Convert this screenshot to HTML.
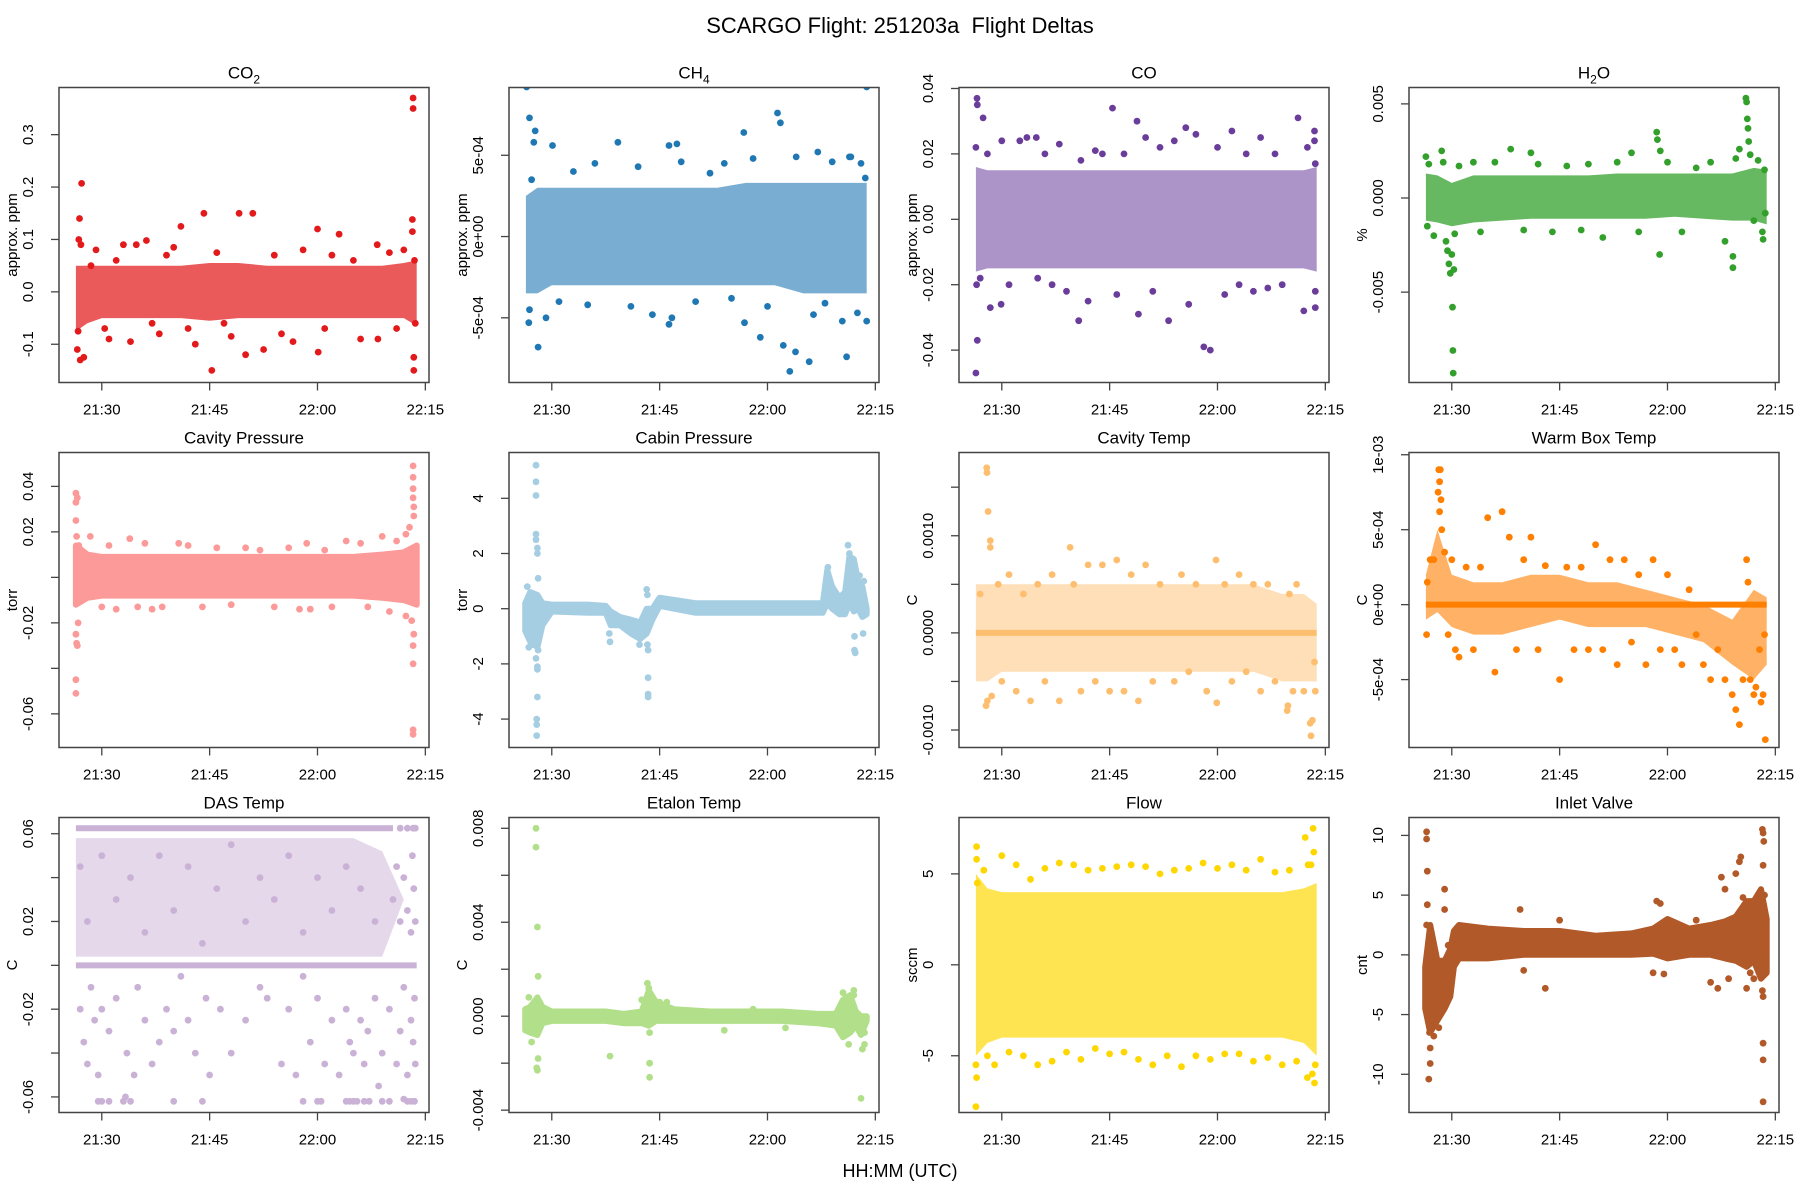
<!DOCTYPE html>
<html><head><meta charset="utf-8"><style>
html,body{margin:0;padding:0;background:#fff}
svg{display:block;font-family:"Liberation Sans",Arial,sans-serif}
</style></head><body>
<svg id="chart" width="1800" height="1200" viewBox="0 0 1800 1200" xmlns="http://www.w3.org/2000/svg">
<rect x="0" y="0" width="1800" height="1200" fill="#fff"/>
<text x="900" y="33" font-size="22" text-anchor="middle" fill="#000">SCARGO Flight: 251203a&#160; Flight Deltas</text>
<text x="900" y="1177" font-size="18" text-anchor="middle" fill="#000">HH:MM (UTC)</text>
<g id="panels"></g>
</svg>
<script>
// shared x-axis data (minutes after 21:00)
const xTickVals = [30, 45, 60, 75];
const xTickLabels = ["21:30", "21:45", "22:00", "22:15"];
const bandT = [26.4,28,30,33,37,41,45,49,53,57,61,65,69,72,73.8];

// CO2
const co2Lo = [-0.075,-0.06,-0.05,-0.05,-0.05,-0.05,-0.055,-0.05,-0.05,-0.05,-0.05,-0.05,-0.05,-0.05,-0.065];
const co2Hi = [0.05,0.05,0.05,0.05,0.05,0.05,0.055,0.055,0.05,0.05,0.05,0.05,0.05,0.055,0.06];
const co2Pts = [[26.6,-0.11],[26.7,-0.075],[26.8,0.1],[26.9,0.14],[27.0,-0.13],[27.2,0.207],[27.5,-0.125],[27.1,0.09],[28.5,0.05],[29.2,0.08],[30.4,-0.07],[31,-0.09],[32,0.06],[33,0.09],[34,-0.095],[34.8,0.09],[36.2,0.098],[37,-0.06],[38,-0.08],[39,0.07],[40,0.085],[41,0.125],[42,-0.07],[43,-0.1],[44.2,0.15],[45.3,-0.15],[46,0.075],[47,-0.06],[48,-0.085],[49.1,0.15],[50,-0.12],[51,0.15],[52.5,-0.11],[54,0.07],[55,-0.08],[56.6,-0.095],[58,0.08],[60,0.12],[60.1,-0.115],[61,-0.07],[62,0.07],[63,0.11],[65,0.06],[66,-0.09],[68.3,0.09],[68.4,-0.09],[70,0.075],[71,-0.07],[72,0.08],[73.2,0.138],[73.2,0.115],[73.3,0.37],[73.3,0.35],[73.4,-0.125],[73.4,-0.15],[73.5,0.06],[73.6,-0.06]];

// CH4
const ch4Lo = [-3.5e-4,-3.5e-4,-3e-4,-3e-4,-3e-4,-3e-4,-3e-4,-3e-4,-3e-4,-3e-4,-3e-4,-3.5e-4,-3.5e-4,-3.5e-4,-3.5e-4];
const ch4Hi = [2.5e-4,3e-4,3e-4,3e-4,3e-4,3e-4,3e-4,3e-4,3e-4,3.3e-4,3.3e-4,3.3e-4,3.3e-4,3.3e-4,3.3e-4];
const ch4Pts = [[26.5,9.2e-4],[26.9,7.3e-4],[27.7,6.5e-4],[27.5,5.8e-4],[30.1,5.6e-4],[26.8,-5.3e-4],[26.9,-4.5e-4],[28.1,-6.8e-4],[29.2,-5e-4],[27.2,3.5e-4],[31,-4e-4],[33,4e-4],[35,-4.2e-4],[36,4.5e-4],[39.2,5.8e-4],[41,-4.3e-4],[42,4.3e-4],[44,-4.8e-4],[46.3,5.6e-4],[47.4,5.7e-4],[46.3,-5.4e-4],[46.7,-5e-4],[48,4.6e-4],[50,-4e-4],[52,3.9e-4],[54,4.5e-4],[55,-3.8e-4],[56.7,6.4e-4],[56.8,-5.3e-4],[58,4.8e-4],[59,-6.2e-4],[60,-4.3e-4],[61.4,7.6e-4],[61.8,7e-4],[62.2,-6.7e-4],[63.1,-8.3e-4],[63.9,-7.1e-4],[64,4.9e-4],[65.8,-7.7e-4],[66.4,-4.8e-4],[67,5.2e-4],[68,-4.1e-4],[69,4.6e-4],[70.4,-5.2e-4],[71,-7.4e-4],[71.4,4.9e-4],[71.6,4.9e-4],[72.5,-4.7e-4],[73,4.5e-4],[73.8,9.2e-4],[73.8,-5.2e-4],[73.6,3.6e-4]];

// CO
const coLo = [-0.016,-0.015,-0.015,-0.015,-0.015,-0.015,-0.015,-0.015,-0.015,-0.015,-0.015,-0.015,-0.015,-0.015,-0.016];
const coHi = [0.016,0.015,0.015,0.015,0.015,0.015,0.015,0.015,0.015,0.015,0.015,0.015,0.015,0.015,0.016];
const coPts = [[26.55,0.037],[26.6,0.035],[27.4,0.031],[26.4,-0.047],[26.6,-0.037],[26.4,0.022],[26.5,-0.02],[27,-0.018],[28.4,-0.027],[29.9,-0.026],[28,0.02],[30,0.024],[31,-0.02],[32.5,0.024],[33.5,0.025],[34.8,0.025],[35,-0.018],[36,0.02],[37,-0.02],[38,0.023],[39,-0.022],[40.7,-0.031],[41,0.018],[42,-0.025],[43,0.021],[44,0.02],[45.4,0.034],[46,-0.023],[47,0.02],[48.8,0.03],[49,-0.029],[50,0.025],[51,-0.022],[52,0.022],[53.2,-0.031],[54,0.024],[55.6,0.028],[56,-0.026],[57,0.026],[58.1,-0.039],[59,-0.04],[60,0.022],[61,-0.023],[62,0.027],[63,-0.02],[64,0.02],[65,-0.022],[66,0.025],[67,-0.021],[68,0.02],[69,-0.02],[71.2,0.031],[72,-0.028],[72.5,0.022],[73.5,0.027],[73.5,0.024],[73.6,-0.027],[73.6,0.017],[73.6,-0.022]];

// H2O
const h2oLo = [-0.0012,-0.0013,-0.0015,-0.0013,-0.0012,-0.0011,-0.0011,-0.0011,-0.0011,-0.0011,-0.001,-0.0011,-0.0012,-0.0012,-0.0014];
const h2oHi = [0.0013,0.0012,0.0008,0.0012,0.0012,0.0012,0.0012,0.0012,0.0013,0.0013,0.0013,0.0013,0.0013,0.0016,0.0015];
const h2oPts = [[26.4,0.0022],[26.6,-0.0015],[26.8,0.0018],[27.5,-0.002],[28.6,0.0025],[28.8,0.0019],[29.2,-0.0023],[29.4,-0.0028],[29.6,-0.0035],[29.8,-0.004],[30,-0.003],[30.1,-0.0058],[30.15,-0.0081],[30.2,-0.0093],[30.3,-0.0038],[30.4,-0.0019],[31,0.0017],[33,0.0019],[34,-0.0018],[36,0.0019],[38.2,0.0026],[40,-0.0017],[41,0.0024],[42,0.0018],[44,-0.0018],[46,0.0017],[48,-0.0017],[49,0.0018],[51,-0.0021],[53,0.0019],[55,0.0024],[56,-0.0018],[58.5,0.0035],[58.6,0.0031],[58.9,-0.003],[59,0.0025],[60,0.0019],[62,-0.0018],[64,0.0016],[66,0.0019],[68,-0.0023],[69.1,-0.0037],[69.1,-0.0031],[69.5,0.0021],[70,0.0026],[70.9,0.0053],[71,0.0051],[71.1,0.0042],[71.2,0.0037],[71.3,0.003],[71.5,0.0023],[72,-0.0012],[72.6,0.002],[73.2,-0.0018],[73.3,-0.0022],[73.5,0.0015],[73.6,-0.0008]];

// Cavity Pressure
const cpLo = [-0.012,-0.009,-0.008,-0.008,-0.008,-0.008,-0.008,-0.008,-0.008,-0.008,-0.008,-0.008,-0.009,-0.01,-0.012];
const cpHi = [0.014,0.01,0.009,0.009,0.009,0.009,0.009,0.009,0.009,0.009,0.009,0.009,0.01,0.011,0.014];
const cpPts = [[26.4,0.037],[26.4,0.033],[26.4,0.025],[26.5,0.018],[26.4,-0.025],[26.5,-0.029],[26.4,-0.045],[26.4,-0.051],[26.6,0.035],[26.7,-0.02],[26.6,-0.03],[26.8,0.014],[28.4,0.018],[30,-0.013],[31,0.014],[32,-0.014],[33.9,0.017],[35,-0.013],[36,0.015],[37,-0.014],[38.4,-0.013],[40.7,0.015],[42,0.014],[44,-0.013],[46,0.013],[48,-0.012],[50,0.013],[52,0.012],[54,-0.013],[56,0.013],[57.5,-0.014],[58.5,0.015],[59,-0.014],[61,0.012],[62,-0.013],[64,0.016],[66,0.015],[67,-0.013],[69,0.018],[70,-0.015],[71,0.016],[72.3,0.019],[72.3,-0.017],[72.8,0.022],[73.1,-0.019],[73.3,0.049],[73.3,0.044],[73.3,0.039],[73.3,0.035],[73.4,0.031],[73.4,0.027],[73.4,-0.025],[73.3,-0.03],[73.3,-0.038],[73.3,-0.067],[73.3,-0.069]];

// Cabin Pressure
const cabT = [26.3,27,28,28.7,30,35,37.5,38.2,39.5,41,42.3,43.2,44,45,50,55,60,65,67.7,68.3,69,70,70.8,71.4,72,72.6,73.2,73.8];
const cabLo = [-0.8,-1.2,-1.4,-0.6,-0.1,-0.15,-0.15,-0.6,-0.6,-0.9,-1.1,-0.9,-0.4,0.1,-0.15,-0.15,-0.15,-0.15,-0.15,0.2,0.0,-0.2,-0.2,0.2,-0.1,0.0,-0.3,-0.2];
const cabHi = [0.2,0.6,0.5,0.2,0.15,0.15,0.1,-0.1,-0.3,-0.4,-0.5,0.0,0.0,0.4,0.2,0.2,0.2,0.2,0.2,1.4,0.8,0.4,0.6,1.9,1.8,1.0,0.8,0.0];
const cabPts = [[27.8,5.2],[27.8,4.6],[27.8,4.1],[27.8,2.7],[27.8,2.5],[28.0,2.2],[28.0,2.0],[28.1,1.1],[28,-2.2],[28,-2.1],[28,-3.2],[27.9,-4.0],[27.9,-4.2],[27.9,-4.6],[27.8,-1.8],[28.1,-1.5],[26.6,0.8],[26.8,-1.4],[27.3,-1.3],[38.1,-1.2],[38,-0.9],[43.2,0.7],[43.3,0.5],[43.4,-1.5],[43.3,-1.3],[43.4,-2.5],[43.4,-3.1],[43.4,-3.2],[42.2,-1.3],[68.4,1.5],[71.2,2.3],[71.4,2.0],[72.1,-1.0],[72.1,-1.5],[72.2,-1.6],[73.3,-0.9],[73.4,1.0],[72.8,1.2]];

// Cavity Temp
const ctLo = [-0.0005,-0.0005,-0.0004,-0.0004,-0.0004,-0.0004,-0.0004,-0.0004,-0.0004,-0.0004,-0.0004,-0.0004,-0.0005,-0.0005,-0.0005];
const ctHi = [0.0005,0.0005,0.0005,0.0005,0.0005,0.0005,0.0005,0.0005,0.0005,0.0005,0.0005,0.0005,0.0004,0.0004,0.0003];
const ctLine = [0];
const ctPts = [[27.9,0.0017],[27.95,0.00165],[28.1,0.00125],[28.4,0.00095],[28.4,0.00088],[27.8,-0.00075],[28.0,-0.0007],[28.6,-0.00065],[27,0.0004],[29.5,0.0005],[30,-0.0005],[31,0.0006],[32,-0.0006],[33,0.0004],[34,-0.0007],[35,0.0005],[36,-0.0005],[37,0.0006],[38,-0.0007],[39.5,0.00088],[40,0.0005],[41,-0.0006],[42,0.0007],[43,-0.0005],[44,0.0007],[45,-0.0006],[46,0.00075],[47,-0.0006],[48,0.0006],[49,-0.0007],[50,0.0007],[51,-0.0005],[52,0.0005],[54,-0.0005],[55,0.0006],[56,-0.0004],[57,0.0005],[58.5,-0.0006],[59.8,0.00075],[59.9,-0.00072],[61,0.0005],[62,-0.0005],[63,0.0006],[64,-0.0004],[65,0.0005],[66,-0.0006],[67,0.0005],[68,-0.0005],[69.7,-0.0008],[69.8,-0.00075],[70,0.0004],[70.5,-0.0006],[71,0.0005],[72,-0.0006],[72.9,-0.00093],[73,-0.00106],[73.2,-0.0009],[73.5,-0.0003],[73.6,-0.0006]];

// Warm Box Temp
const wbLo = [-1e-4,-0.5e-4,-1.5e-4,-2e-4,-2e-4,-1.5e-4,-1e-4,-1.5e-4,-1.5e-4,-1.5e-4,-2e-4,-2.5e-4,-4e-4,-5e-4,-4e-4];
const wbHi = [2e-4,5e-4,2e-4,1.5e-4,1.5e-4,2e-4,2e-4,1.5e-4,1.5e-4,1e-4,0.5e-4,0,-1e-4,1e-4,0.5e-4];
const wbLine = [0];
const wbPts = [[26.5,-0.0002],[26.6,0.00015],[27,0.0003],[27.5,0.0003],[28.2,0.0009],[28.4,0.0009],[28.3,0.00082],[28.1,0.00075],[28.5,0.0007],[28.3,0.00062],[28.6,0.0005],[29,0.00035],[29.5,-0.0002],[30,0.0003],[30.5,-0.0003],[31,-0.00035],[32,0.00025],[33,-0.0003],[34,0.00025],[35,0.00058],[36,-0.00045],[37,0.00062],[38,0.00045],[39,-0.0003],[40,0.0003],[41,0.00045],[42,-0.0003],[43,0.00026],[45,-0.0005],[46,0.00025],[47,-0.0003],[48,0.00025],[49,-0.0003],[50,0.0004],[51,-0.0003],[52,0.0003],[53,-0.0004],[54,0.0003],[55,-0.00025],[56,0.0002],[57,-0.0004],[58,0.0003],[59,-0.0003],[60,0.0002],[61,-0.0003],[62,-0.0004],[63,0.0001],[64,-0.0002],[65,-0.0004],[66,-0.0005],[67,-0.0003],[68,-0.0005],[69,-0.0006],[69.5,-0.0007],[70,-0.0008],[70.5,-0.0005],[71,0.0003],[71.2,0.00015],[71.5,-0.0005],[72,-0.0006],[72.3,-0.00055],[72.8,-0.0003],[73,-0.00065],[73.3,-0.0006],[73.6,-0.0009],[73.5,-0.0002]];

// DAS Temp
const dasLo = [0.004,0.004,0.004,0.004,0.004,0.004,0.004,0.004,0.004,0.004,0.004,0.004,0.004,0.03,0.03];
const dasHi = [0.058,0.058,0.058,0.058,0.058,0.058,0.058,0.058,0.058,0.058,0.058,0.058,0.052,0.03,0.03];
const dasLineVals = [0.0625, 0];
const dasLineEnds = [70.5, 73.8];
const dasPts = [[71.5,0.0625],[72.5,0.0625],[73.3,0.0625],[73.6,0.0625],[29.5,-0.062],[30,-0.062],[31,-0.062],[33,-0.062],[33.3,-0.06],[34,-0.062],[40,-0.062],[44,-0.062],[58,-0.062],[60,-0.062],[60.5,-0.062],[64,-0.062],[64.5,-0.062],[65,-0.062],[65.5,-0.062],[66.5,-0.062],[67.2,-0.062],[69,-0.062],[70,-0.062],[72,-0.061],[72.5,-0.062],[73,-0.062],[73.5,-0.062],[27,-0.02],[27.5,-0.035],[28,-0.045],[28.5,-0.01],[29,-0.025],[29.5,-0.05],[30,-0.02],[31,-0.03],[32,-0.015],[33.5,-0.04],[34.5,-0.05],[35,-0.01],[36,-0.025],[37,-0.045],[38,-0.035],[39,-0.02],[40,-0.03],[41,-0.005],[42,-0.025],[43,-0.04],[44.5,-0.015],[45,-0.05],[46.5,-0.02],[48,-0.04],[50,-0.025],[52,-0.01],[53,-0.015],[55,-0.045],[56,-0.02],[57,-0.05],[58,-0.005],[59,-0.035],[60,-0.015],[61,-0.045],[62,-0.025],[63,-0.05],[64,-0.02],[64.5,-0.035],[65,-0.04],[66,-0.025],[66.5,-0.045],[67,-0.03],[68,-0.015],[68.5,-0.055],[69,-0.04],[70,-0.02],[71,-0.045],[71.5,-0.03],[72,-0.01],[72.5,-0.05],[73,-0.025],[73.3,-0.035],[73.5,-0.015],[73.6,-0.045],[70.5,0.03],[71,0.045],[71.5,0.02],[72,0.04],[72.5,0.025],[73,0.015],[73.4,0.035],[73.6,0.02],[73.2,0.05],[27,0.045],[28,0.02],[30,0.05],[32,0.03],[34,0.04],[36,0.015],[38,0.05],[40,0.025],[42,0.045],[44,0.01],[46,0.035],[48,0.055],[50,0.02],[52,0.04],[54,0.03],[56,0.05],[58,0.015],[60,0.04],[62,0.025],[64,0.045],[66,0.035],[68,0.02]];

// Etalon Temp
const etT = [26.3,27,28,28.7,30,35,37.5,40,42.5,43.5,44.5,47,52,57,62,67,69.5,70.5,71.5,72.3,73,73.8];
const etLo = [-0.0006,-0.0007,-0.0008,-0.0003,-0.0002,-0.0002,-0.0002,-0.0003,-0.0003,-0.0004,-0.0002,-0.0002,-0.0002,-0.0002,-0.0002,-0.0003,-0.0004,-0.0009,-0.0007,-0.0004,-0.0008,-0.0002];
const etHi = [0.0003,0.0004,0.0008,0.0004,0.0002,0.0002,0.0002,0.0001,0.0002,0.0011,0.0006,0.0003,0.0002,0.0002,0.0002,0.0001,0.0001,0.0007,0.0009,0.0002,0.0,0.0];
const etPts = [[27.8,0.008],[27.8,0.0072],[28.0,0.0038],[28.1,0.0017],[28.1,-0.0018],[27.9,-0.0022],[28,-0.0023],[27.2,-0.0011],[26.8,0.0008],[38.1,-0.0017],[43.3,0.0014],[43.5,0.0012],[43.6,-0.0007],[43.6,-0.002],[43.6,-0.0026],[42.5,0.0007],[45,0.0006],[46,0.0006],[54,-0.0006],[58,0.0003],[62.5,-0.0005],[70.5,0.001],[71.3,-0.0012],[72,0.0011],[72,0.0009],[73.2,-0.0014],[73.5,-0.0012],[73.5,-0.0007],[73.0,-0.0035]];

// Flow
const flLo = [-5,-4.3,-4,-4,-4,-4,-4,-4,-4,-4,-4,-4,-4,-4.3,-5];
const flHi = [5,4.2,4,4,4,4,4,4,4,4,4,4,4,4.2,4.5];
const flPts = [[26.4,-7.8],[26.4,-5.5],[26.5,-6.2],[26.5,6.5],[26.5,5.8],[26.6,4.5],[27.5,5.2],[28,-5],[29,-5.5],[30,6],[31,-4.8],[32,5.5],[33,-5],[34,4.7],[35,-5.5],[36,5.3],[37,-5.3],[38,5.6],[39,-4.8],[40,5.5],[41,-5.2],[42,5.2],[43,-4.6],[44,5.3],[45,-4.9],[46,5.4],[47,-4.8],[48,5.5],[49,-5.2],[50,5.4],[51,-5.5],[52,5],[53,-5],[54,5.2],[55,-5.6],[56,5.3],[57,-5],[58,5.6],[59,-5.2],[60,5.3],[61,-4.9],[62,5.5],[63,-4.9],[64,5.2],[65,-5.3],[66,5.8],[67,-5.1],[68,5.1],[69,-5.5],[70,5.2],[71,-5.3],[72.2,7.0],[72.6,5.5],[73,5.5],[73.3,7.5],[73.4,6.2],[73.2,-6],[73.5,-6.5],[73.6,-5.5],[72.5,-6.2]];

// Inlet Valve
const inT = [26.3,27,28,29,29.8,30.3,31,35,40,45,50,55,58,60,63,66,68,69.5,71,72,73,73.8];
const inLo = [-4.5,-6.5,-5.5,-4.5,-3.5,-1.0,-0.3,-0.3,0,0,0,0,0.1,-0.3,0,0,-0.3,-0.5,-1,-0.5,-2,-1.5];
const inHi = [-1,2.5,-0.5,-0.5,0.5,2.0,2.5,2.2,2.0,2.0,1.6,1.8,2.2,3.0,2.2,2.5,2.8,3.2,4.5,4.5,5.5,3];
const inPts = [[26.5,10.3],[26.5,9.7],[26.6,7.0],[26.6,4.2],[26.5,2.5],[27,-7.8],[27,-9.1],[26.8,-10.4],[26.9,-6.5],[27.5,-6.8],[28.2,-6.1],[29,5.5],[29,3.8],[29.5,0.8],[39.5,3.8],[40,-1.3],[43,-2.8],[45,2.9],[58.5,4.5],[59,4.3],[58,-1.5],[59.5,-1.6],[64,2.9],[66,-2.3],[67,-2.8],[67.5,6.5],[68,5.5],[68.5,-2],[69.5,6.8],[70,7.8],[70.2,8.2],[70.5,4.8],[71,-2.8],[71.5,-1.5],[72,-2],[73.2,10.5],[73.3,10.2],[73.4,9.5],[73.3,7.5],[73.5,5],[73.2,-3],[73.3,-3.5],[73.3,-7.4],[73.3,-8.8],[73.3,-12.3],[73.6,0.8],[73.7,2.5],[73,-1]];

const NS = "http://www.w3.org/2000/svg";
const colX = [59, 509, 959, 1409], rowY = [87.5, 452.5, 817.5];
const BW = 370, BH = 295, T0 = 24.05, PXMIN = 7.19;

const panels = [
 {name:"co2",title:["CO","2"],c:0,r:0,ylab:"approx. ppm",dom:[-0.173,0.39],ticks:[-0.1,0,0.1,0.2,0.3],tl:["-0.1","0.0","0.1","0.2","0.3"],color:"#e31a1c",bt:bandT,lo:co2Lo,hi:co2Hi,ba:0.72,pts:co2Pts},
 {name:"ch4",title:["CH","4"],c:1,r:0,ylab:"approx. ppm",dom:[-8.98e-4,9.17e-4],ticks:[-5e-4,0,5e-4],tl:["-5e-04","0e+00","5e-04"],color:"#1f78b4",bt:bandT,lo:ch4Lo,hi:ch4Hi,ba:0.6,pts:ch4Pts},
 {name:"co",title:["CO",""],c:2,r:0,ylab:"approx. ppm",dom:[-0.0499,0.0403],ticks:[-0.04,-0.02,0,0.02,0.04],tl:["-0.04","-0.02","0.00","0.02","0.04"],color:"#6a3d9a",bt:bandT,lo:coLo,hi:coHi,ba:0.55,pts:coPts},
 {name:"h2o",title:["H","2","O"],c:3,r:0,ylab:"%",dom:[-0.0098,0.00587],ticks:[-0.005,0,0.005],tl:["-0.005","0.000","0.005"],color:"#33a02c",bt:bandT,lo:h2oLo,hi:h2oHi,ba:0.75,pts:h2oPts},
 {name:"cavity-pressure",title:["Cavity Pressure",""],c:0,r:1,ylab:"torr",dom:[-0.0748,0.0549],ticks:[-0.06,-0.04,-0.02,0,0.02,0.04],tl:["-0.06","","-0.02","","0.02","0.04"],color:"#fb9a99",bt:bandT,lo:cpLo,hi:cpHi,ba:1,pts:cpPts},
 {name:"cabin-pressure",title:["Cabin Pressure",""],c:1,r:1,ylab:"torr",dom:[-5.03,5.66],ticks:[-4,-2,0,2,4],tl:["-4","-2","0","2","4"],color:"#a6cee3",bt:cabT,lo:cabLo,hi:cabHi,ba:1,pts:cabPts},
 {name:"cavity-temp",title:["Cavity Temp",""],c:2,r:1,ylab:"C",dom:[-0.00118,0.001857],ticks:[-0.001,-0.0005,0,0.0005,0.001,0.0015],tl:["-0.0010","","0.0000","","0.0010",""],color:"#fdbf6f",bt:bandT,lo:ctLo,hi:ctHi,ba:0.5,pts:ctPts,lines:ctLine,lineEnds:[73.8]},
 {name:"warm-box-temp",title:["Warm Box Temp",""],c:3,r:1,ylab:"C",dom:[-9.53e-4,1.015e-3],ticks:[-5e-4,0,5e-4,1e-3],tl:["-5e-04","0e+00","5e-04","1e-03"],color:"#ff7f00",bt:bandT,lo:wbLo,hi:wbHi,ba:0.6,pts:wbPts,lines:wbLine,lineEnds:[73.8]},
 {name:"das-temp",title:["DAS Temp",""],c:0,r:2,ylab:"C",dom:[-0.0671,0.0674],ticks:[-0.06,-0.04,-0.02,0,0.02,0.04,0.06],tl:["-0.06","","-0.02","","0.02","","0.06"],color:"#cab2d6",bt:bandT,lo:dasLo,hi:dasHi,ba:0.5,pts:dasPts,lines:dasLineVals,lineEnds:dasLineEnds},
 {name:"etalon-temp",title:["Etalon Temp",""],c:1,r:2,ylab:"C",dom:[-0.0041,0.00846],ticks:[-0.004,-0.002,0,0.002,0.004,0.006,0.008],tl:["-0.004","","0.000","","0.004","","0.008"],color:"#b2df8a",bt:etT,lo:etLo,hi:etHi,ba:1,pts:etPts},
 {name:"flow",title:["Flow",""],c:2,r:2,ylab:"sccm",dom:[-8.12,8.1],ticks:[-5,0,5],tl:["-5","0","5"],color:"#ffd700",bt:bandT,lo:flLo,hi:flHi,ba:0.68,pts:flPts},
 {name:"inlet-valve",title:["Inlet Valve",""],c:3,r:2,ylab:"cnt",dom:[-13.2,11.5],ticks:[-10,-5,0,5,10],tl:["-10","-5","0","5","10"],color:"#b15928",bt:inT,lo:inLo,hi:inHi,ba:1,pts:inPts}
];

function mk(tag, attrs, parent){ const e=document.createElementNS(NS,tag); for(const k in attrs) e.setAttribute(k,attrs[k]); if(parent) parent.appendChild(e); return e; }

const root = document.getElementById("panels");
panels.forEach(p=>{
  const L = colX[p.c], Tp = rowY[p.r];
  const xs = t => L + (t - T0) * PXMIN;
  const ys = v => Tp + BH - (v - p.dom[0]) / (p.dom[1] - p.dom[0]) * BH;
  const g = mk("g", {}, root);
  
  
  const cp = mk("clipPath", {id:"clip-"+p.name}, g);
  mk("rect", {x:L, y:Tp, width:BW, height:BH}, cp);
  const data = mk("g", {"clip-path":"url(#clip-"+p.name+")"}, g);
  
  
  // envelope band
  let d = "";
  p.bt.forEach((t,i)=>{ d += (i?"L":"M") + xs(t).toFixed(1) + "," + ys(p.hi[i]).toFixed(1); });
  for(let i=p.bt.length-1;i>=0;i--) d += "L" + xs(p.bt[i]).toFixed(1) + "," + ys(p.lo[i]).toFixed(1);
  const battrs = {d:d+"Z", fill:p.color, "fill-opacity":p.ba};
  if(p.ba >= 1){ battrs.stroke = p.color; battrs["stroke-width"] = 6; battrs["stroke-linejoin"] = "round"; }
  const band = mk("path", battrs, data);
  
  
  // constant lines
  if(p.lines){ p.lines.forEach((v,i)=>{
    const ln = mk("line", {x1:xs(26.4), x2:xs(p.lineEnds[i]), y1:ys(v), y2:ys(v), stroke:p.color, "stroke-width":6}, data);
    
    
  }); }
  // points
  p.pts.forEach(pt=>{
    const c = mk("circle", {cx:xs(pt[0]).toFixed(1), cy:ys(pt[1]).toFixed(1), r:3.4, fill:p.color}, data);
    
    
  });
  // box
  const box = mk("rect", {x:L, y:Tp, width:BW, height:BH, fill:"none", stroke:"#444", "stroke-width":1.5}, g);
  
  
  // title
  const tt = mk("text", {x:L+BW/2, y:Tp-9, "font-size":17, "text-anchor":"middle", fill:"#000"}, g);
  
  
  tt.appendChild(document.createTextNode(p.title[0]));
  if(p.title[1]){ const s = mk("tspan", {"font-size":12, dy:5}, tt); s.textContent = p.title[1]; }
  if(p.title[2]){ const s2 = mk("tspan", {dy:-5}, tt); s2.textContent = p.title[2]; }
  // x axis
  const xa = mk("g", {}, g);
  
  
  xTickVals.forEach((t,i)=>{
    const x = xs(t);
    mk("line", {x1:x, x2:x, y1:Tp+BH, y2:Tp+BH+8, stroke:"#444", "stroke-width":1.3}, xa);
    const lb = mk("text", {x:x, y:Tp+BH+32, "font-size":15, "text-anchor":"middle", fill:"#000"}, xa);
    
    
    lb.textContent = xTickLabels[i];
  });
  // y axis
  const ya = mk("g", {}, g);
  
  
  p.ticks.forEach((v,i)=>{
    const y = ys(v);
    mk("line", {x1:L-8, x2:L, y1:y, y2:y, stroke:"#444", "stroke-width":1.3}, ya);
    if(p.tl[i]){
      const lx = L-26;
      const lb = mk("text", {x:lx, y:y, "font-size":15, "text-anchor":"middle", transform:"rotate(-90 "+lx+" "+y+")", fill:"#000"}, ya);
      
      
      lb.textContent = p.tl[i];
    }
  });
  const yx = L-42, yy = Tp+BH/2;
  const yl = mk("text", {x:yx, y:yy, "font-size":15, "text-anchor":"middle", transform:"rotate(-90 "+yx+" "+yy+")", fill:"#000"}, g);
  
  
  yl.textContent = p.ylab;
});
</script>
</body></html>
